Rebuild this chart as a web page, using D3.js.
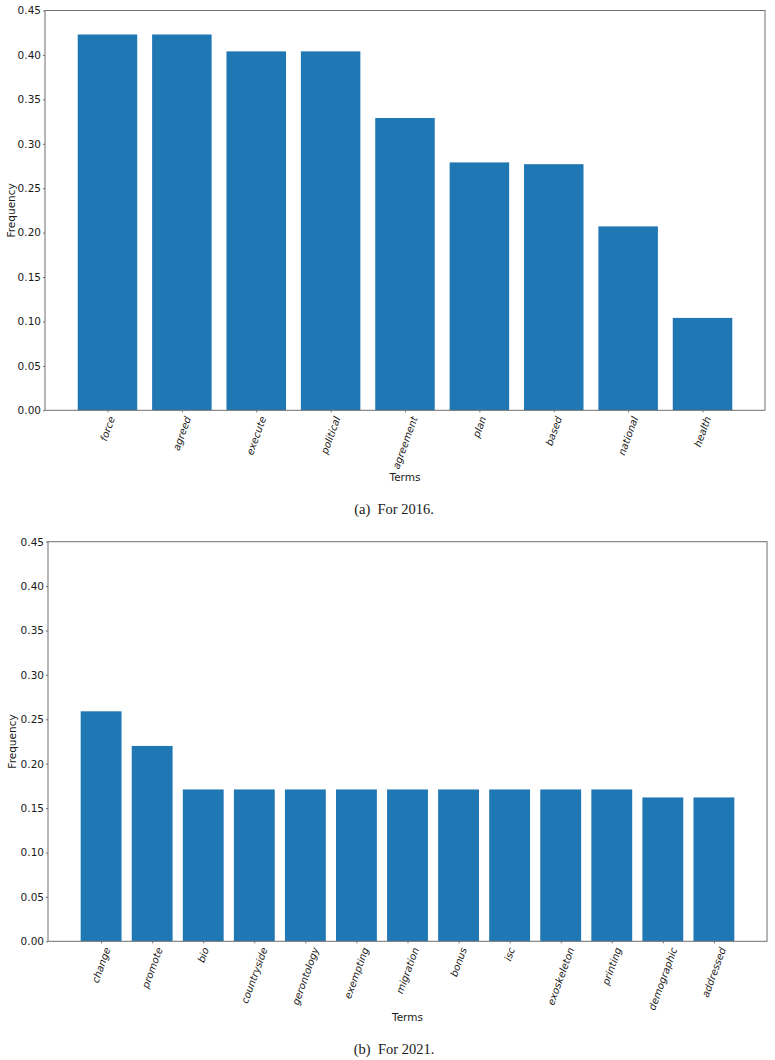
<!DOCTYPE html>
<html lang="en">
<head>
  <meta charset="UTF-8">
  <title>Term Frequency</title>
  <script src="https://d3js.org/d3.v7.min.js"></script>
  <style>
    body {
      margin: 0;
      background-color: white;
    }
    svg text {
      font-family: "DejaVu Sans", sans-serif;
      fill: #1a1a1a;
    }
    .domain, .tick line {
      stroke: #6e6e6e;
    }
    .caption {
      font-family: "Liberation Serif", serif !important;
      font-size: 14.5px;
    }
  </style>
</head>
<body>
  <div id="chart"></div>

  <script>
    // Terms and frequencies for each year
    const terms2016 = ['force', 'agreed', 'execute', 'political', 'agreement', 'plan', 'based', 'national', 'health'];
    const freq2016 = [0.423, 0.423, 0.404, 0.404, 0.329, 0.279, 0.277, 0.207, 0.104];

    const terms2021 = ['change', 'promote', 'bio', 'countryside', 'gerontology', 'exempting', 'migration',
      'bonus', 'isc', 'exoskeleton', 'printing', 'demographic', 'addressed'];
    const freq2021 = [0.259, 0.220, 0.171, 0.171, 0.171, 0.171, 0.171, 0.171, 0.171, 0.171, 0.171, 0.162, 0.162];

    const yTicks = [0, 0.05, 0.10, 0.15, 0.20, 0.25, 0.30, 0.35, 0.40, 0.45];

    const svg = d3.select('#chart')
      .append('svg')
      .attr('width', 775)
      .attr('height', 1060);

    function drawPanel(terms, values, box, caption) {
      const n = terms.length;
      // matplotlib style x-limits: bars of width 0.8 plus a 5% margin
      const span = (n - 1) + 0.8;
      const pad = span * 0.05;
      const xScale = d3.scaleLinear()
        .domain([-0.4 - pad, n - 1 + 0.4 + pad])
        .range([box.left, box.right]);

      const yScale = d3.scaleLinear()
        .domain([0, 0.45])
        .range([box.bottom, box.top]);

      const g = svg.append('g');

      // bars
      g.selectAll('.bar')
        .data(values)
        .enter()
        .append('rect')
        .attr('class', 'bar')
        .attr('x', (d, i) => xScale(i - 0.4))
        .attr('width', xScale(0.8) - xScale(0))
        .attr('y', d => yScale(d))
        .attr('height', d => yScale(0) - yScale(d))
        .attr('fill', '#1f77b4');

      // frame
      g.append('rect')
        .attr('x', box.left)
        .attr('y', box.top)
        .attr('width', box.right - box.left)
        .attr('height', box.bottom - box.top)
        .attr('fill', 'none')
        .attr('stroke', '#6e6e6e')
        .attr('stroke-width', 1);

      // y axis
      const yAxis = d3.axisLeft(yScale)
        .tickValues(yTicks)
        .tickSize(2)
        .tickPadding(2)
        .tickFormat(d3.format('.2f'));

      g.append('g')
        .attr('transform', `translate(${box.left}, 0)`)
        .call(yAxis)
        .call(s => s.select('.domain').remove())
        .selectAll('text')
        .style('font-size', '10.5px');

      // x axis
      const xAxis = d3.axisBottom(xScale)
        .tickValues(d3.range(n))
        .tickSize(2)
        .tickFormat(i => terms[i]);

      const xg = g.append('g')
        .attr('transform', `translate(0, ${box.bottom})`)
        .call(xAxis);
      xg.select('.domain').remove();

      // rotated labels, centred under the tick like matplotlib rotation=70
      const fs = 10;
      const asc = 0.8 * fs, desc = 0.2 * fs;
      const c = Math.cos(70 * Math.PI / 180), s = Math.sin(70 * Math.PI / 180);
      xg.selectAll('.tick text')
        .style('font-size', fs + 'px')
        .style('font-style', 'italic')
        .attr('text-anchor', 'end')
        .attr('dy', null)
        .attr('y', 0)
        .each(function() {
          const L = this.getComputedTextLength();
          const ex = (c * L + s * (asc - desc)) / 2;
          const ey = 5 + c * asc;
          d3.select(this).attr('transform', `translate(${ex}, ${ey}) rotate(-70)`);
        });

      // axis labels
      g.append('text')
        .attr('text-anchor', 'middle')
        .attr('transform', 'rotate(-90)')
        .attr('x', -(box.top + box.bottom) / 2)
        .attr('y', box.yLabelX)
        .style('font-size', '10.5px')
        .text('Frequency');

      g.append('text')
        .attr('text-anchor', 'middle')
        .attr('x', (box.left + box.right) / 2)
        .attr('y', box.termsY)
        .style('font-size', '10.5px')
        .text('Terms');

      g.append('text')
        .attr('class', 'caption')
        .attr('text-anchor', 'middle')
        .attr('x', 394)
        .attr('y', box.captionY)
        .attr('xml:space', 'preserve')
        .text(caption);
    }

    drawPanel(terms2016, freq2016,
      { left: 45, right: 765, top: 10.5, bottom: 410.3, yLabelX: 15, termsY: 481, captionY: 514 },
      '(a)  For 2016.');

    drawPanel(terms2021, freq2021,
      { left: 48, right: 767, top: 541.7, bottom: 941.3, yLabelX: 16, termsY: 1021, captionY: 1054 },
      '(b)  For 2021.');
  </script>
</body>
</html>
